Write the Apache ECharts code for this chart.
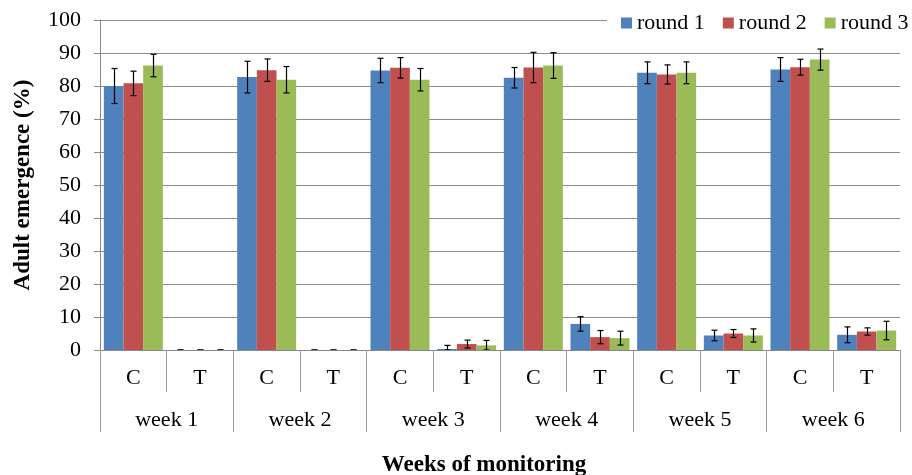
<!DOCTYPE html>
<html>
<head>
<meta charset="utf-8">
<script src="https://cdn.jsdelivr.net/npm/echarts@6/dist/echarts.min.js"></script>
<style>html,body{margin:0;padding:0;background:#fff;}#chart{width:912px;height:475px;}</style>
</head>
<body>
<div id="chart"></div>
<script>
const categories = ['C','T','C','T','C','T','C','T','C','T','C','T'];
const weeks = ['week 1','week 2','week 3','week 4','week 5','week 6'];
const seriesNames = ['round 1','round 2','round 3'];
const round1 = [80.0, 0, 82.7, 0, 84.7, 0.3, 82.5, 7.9, 84.0, 4.4, 85.0, 4.6];
const round1Err = [5.3, 0, 4.8, 0, 3.7, 1.1, 3.1, 2.2, 3.3, 1.6, 3.6, 2.4];
const round2 = [80.8, 0, 84.8, 0, 85.5, 1.8, 85.6, 3.9, 83.5, 5.0, 85.7, 5.6];
const round2Err = [3.7, 0, 3.4, 0, 3.1, 1.2, 4.6, 2.0, 2.9, 1.2, 2.4, 1.1];
const round3 = [86.2, 0, 81.9, 0, 81.9, 1.4, 86.2, 3.6, 84.0, 4.4, 88.0, 5.9];
const round3Err = [3.4, 0, 4.0, 0, 3.4, 1.5, 3.9, 2.1, 3.3, 2.0, 3.2, 2.8];
const yTicks = [0,10,20,30,40,50,60,70,80,90,100];

const colors = ['#4F81BD','#C0504D','#9BBB59'];
const values = [round1, round2, round3];
const errs = [round1Err, round2Err, round3Err];
const FONT = "'Liberation Serif','Times New Roman',serif";
const GAP = 0.115;

const chart = echarts.init(document.getElementById('chart'));

const series = [];
values.forEach((vals, i) => {
  series.push({
    name: seriesNames[i], type: 'bar', xAxisIndex: 0, yAxisIndex: 0,
    data: vals, barGap: '0%', barCategoryGap: (GAP*100)+'%',
    itemStyle: {color: colors[i]}
  });
});
values.forEach((vals, i) => {
  series.push({
    type: 'custom', xAxisIndex: 0, yAxisIndex: 0, z: 5, clip: true,
    silent: true,
    data: vals.map((v, k) => [k, v, errs[i][k]]),
    renderItem: function (params, api) {
      const x = api.value(0), v = api.value(1), e = api.value(2);
      const band = api.size([1, 0])[0];
      const bw = band * (1 - GAP) / 3;
      const off = (i - 1) * bw;
      const top = api.coord([x, v + e]);
      const bot = api.coord([x, Math.max(0, v - e)]);
      const cx = Math.round(top[0] + off) + 0.5;
      const hw = 3;
      const st = {stroke: '#000', lineWidth: 1.2};
      return {type: 'group', children: [
        {type: 'line', shape: {x1: cx, y1: top[1], x2: cx, y2: bot[1]}, style: st},
        {type: 'line', shape: {x1: cx - hw, y1: top[1], x2: cx + hw, y2: top[1]}, style: st},
        {type: 'line', shape: {x1: cx - hw, y1: bot[1], x2: cx + hw, y2: bot[1]}, style: st}
      ]};
    }
  });
});

chart.setOption({
  animation: false,
  textStyle: {fontFamily: FONT},
  legend: {
    data: seriesNames, left: 607, top: 9, width: 300,
    itemWidth: 11, itemHeight: 11, itemGap: 18,
    backgroundColor: '#fff', padding: [3, 2, 3, 14],
    textStyle: {fontFamily: FONT, fontSize: 22, color: '#000'},
    icon: 'rect'
  },
  grid: {left: 100, width: 800, top: 20, height: 330, containLabel: false, outerBoundsMode: 'none'},
  xAxis: [
    {
      type: 'category', data: categories, position: 'bottom',
      axisLine: {show: true, lineStyle: {color: '#888'}},
      axisTick: {show: true, length: 42, interval: 0, lineStyle: {color: '#999'}},
      axisLabel: {interval: 0, margin: 17, fontSize: 22, color: '#000', fontFamily: FONT}
    },
    {
      type: 'category', data: weeks, position: 'bottom',
      axisLine: {show: false},
      axisTick: {show: true, length: 82, interval: 0, lineStyle: {color: '#999'}},
      axisLabel: {interval: 0, margin: 59, fontSize: 22, color: '#000', fontFamily: FONT},
      name: 'Weeks of monitoring', nameLocation: 'middle', nameGap: 104,
      nameTextStyle: {fontSize: 23, fontWeight: 'bold', color: '#000', fontFamily: FONT,
        padding: [0, 32, 0, 0]}
    }
  ],
  yAxis: {
    type: 'value', min: 0, max: 100, interval: 10,
    axisLine: {show: true, lineStyle: {color: '#888'}},
    axisTick: {show: true, length: 6, lineStyle: {color: '#888'}},
    splitLine: {show: true, lineStyle: {color: '#8c8c8c', width: 1}},
    axisLabel: {margin: 19, fontSize: 22, color: '#000', fontFamily: FONT,
      formatter: v => yTicks.indexOf(v) >= 0 ? String(v) : ''},
    name: 'Adult emergence (%)', nameLocation: 'middle', nameGap: 65, nameRotate: 90,
    nameTextStyle: {fontSize: 23, fontWeight: 'bold', color: '#000', fontFamily: FONT}
  },
  series: series
});
</script>
</body>
</html>
